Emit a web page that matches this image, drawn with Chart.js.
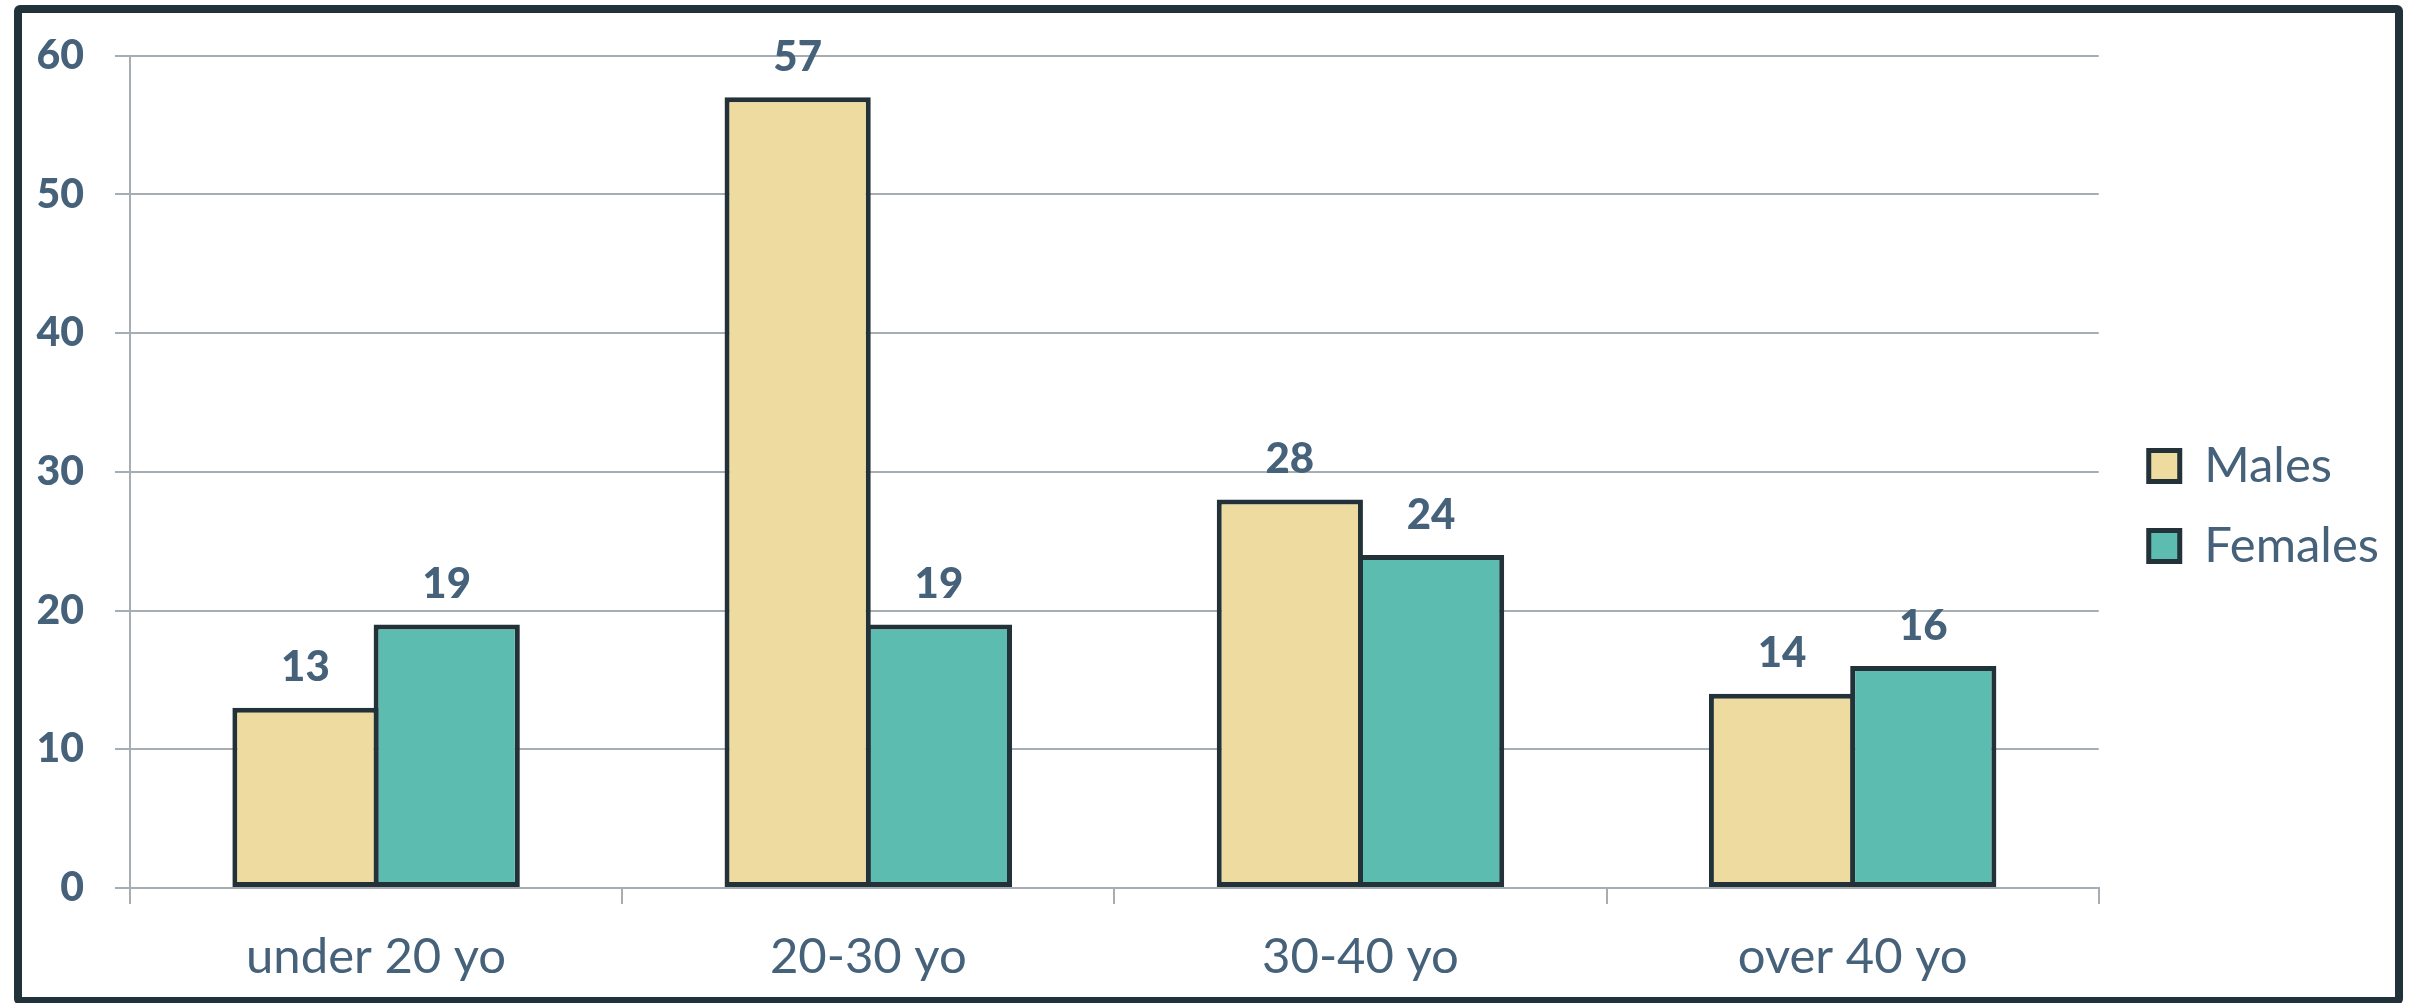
<!DOCTYPE html>
<html>
<head>
<meta charset="utf-8">
<script src="https://cdn.jsdelivr.net/npm/chart.js@4.4.1/dist/chart.umd.min.js"></script>
<style>
    html, body { margin: 0; padding: 0; background: #ffffff; }
    #wrap { position: relative; width: 2413px; height: 1003px; overflow: hidden; }
    #frame {
        position: absolute; left: 14px; top: 5px; width: 2389px; height: 1000px;
        box-sizing: border-box; border: 8px solid #22323b; border-radius: 6px;
        pointer-events: none;
    }
</style>
</head>
<body>
<div id="wrap">
    <canvas id="chart"></canvas>
    <div id="frame"></div>
</div>
<script>
let categories = ['under 20 yo', '20-30 yo', '30-40 yo', 'over 40 yo'];
let males = [13, 57, 28, 14];
let females = [19, 19, 24, 16];
let tick_values = [0, 10, 20, 30, 40, 50, 60];

let text_color = '#46627a';
let grid_color = '#a6adb3';
let edge_color = '#233139';

// draws the value above every bar
let valueLabels = {
    id: 'valueLabels',
    afterDatasetsDraw(chart) {
        let ctx = chart.ctx;
        ctx.save();
        ctx.font = '900 42px Lato';
        ctx.fillStyle = text_color;
        ctx.textAlign = 'center';
        ctx.textBaseline = 'middle';
        chart.data.datasets.forEach(function (ds, i) {
            chart.getDatasetMeta(i).data.forEach(function (bar, j) {
                ctx.fillText(ds.data[j], bar.x, bar.y - 40);
            });
        });
        ctx.restore();
    }
};

function drawChart() {
    new Chart(document.getElementById('chart'), {
        type: 'bar',
        data: {
            labels: categories,
            datasets: [{
                label: 'Males',
                data: males,
                backgroundColor: '#eedb9f',
                borderColor: edge_color,
                borderWidth: 5,
                borderSkipped: false,
                barPercentage: 1.035,
                categoryPercentage: 0.574
            }, {
                label: 'Females',
                data: females,
                backgroundColor: '#5dbcb0',
                borderColor: edge_color,
                borderWidth: 5,
                borderSkipped: false,
                barPercentage: 1.035,
                categoryPercentage: 0.574
            }]
        },
        options: {
            responsive: true,
            maintainAspectRatio: false,
            animation: false,
            layout: { padding: { top: 9, bottom: 0, left: 0, right: 24 } },
            plugins: {
                tooltip: { enabled: false },
                legend: {
                    position: 'right',
                    labels: {
                        boxWidth: 31,
                        boxHeight: 31,
                        padding: 31,
                        color: text_color,
                        font: { family: 'Lato', size: 49, lineHeight: 1 }
                    }
                }
            },
            scales: {
                x: {
                    grid: {
                        display: true,
                        drawOnChartArea: false,
                        drawTicks: true,
                        tickLength: 16,
                        color: grid_color,
                        lineWidth: 2
                    },
                    border: { display: true, color: grid_color, width: 2 },
                    ticks: {
                        color: text_color,
                        padding: 24,
                        font: { family: 'Lato', size: 49 }
                    },
                    afterFit: function (scale) { scale.height = 115; }
                },
                // empty space above the plot
                top_gap: {
                    type: 'linear',
                    position: 'top',
                    display: true,
                    grid: { display: false },
                    border: { display: false },
                    ticks: { display: false },
                    afterFit: function (scale) { scale.height = 43; }
                },
                y: {
                    min: 0,
                    max: 60,
                    afterBuildTicks: function (scale) {
                        scale.ticks = tick_values.map(v => ({ value: v }));
                    },
                    grid: {
                        color: grid_color,
                        lineWidth: 2,
                        tickLength: 15
                    },
                    border: { display: true, color: grid_color, width: 2 },
                    ticks: {
                        color: text_color,
                        padding: 31,
                        font: { family: 'Lato', size: 41, weight: '900' }
                    },
                    afterFit: function (scale) { scale.width = 130; }
                },
                // empty spacer between the plot and the legend
                gap: {
                    position: 'right',
                    display: true,
                    grid: { display: false },
                    border: { display: false },
                    ticks: { display: false },
                    afterFit: function (scale) { scale.width = 19; }
                }
            }
        },
        plugins: [valueLabels]
    });
}

document.fonts.load('49px Lato').then(drawChart, drawChart);
</script>
</body>
</html>
